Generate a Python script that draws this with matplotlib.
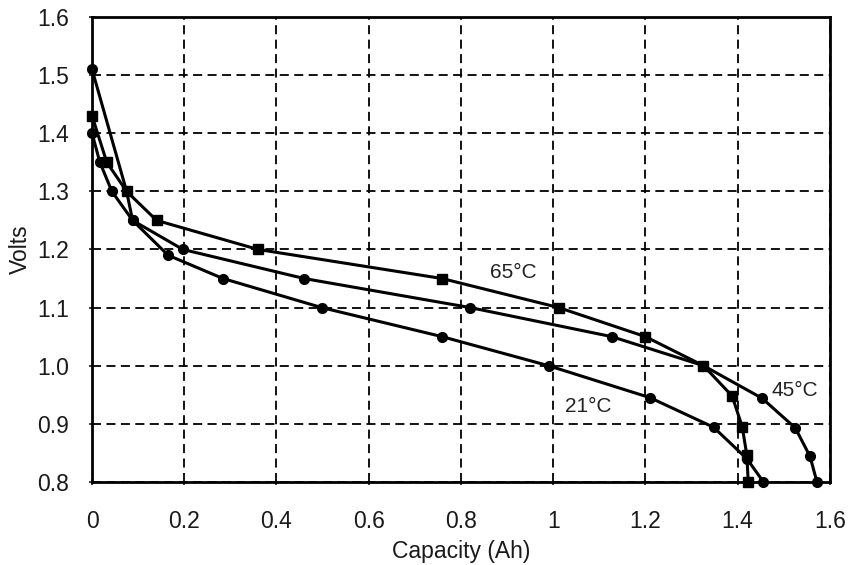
import matplotlib
matplotlib.use("Agg")
import matplotlib.pyplot as plt
from matplotlib.ticker import FixedLocator, FuncFormatter

plt.rcParams['font.family'] = ['Liberation Sans', 'DejaVu Sans']

# Data
cap_65 = [0.0, 0.032, 0.075, 0.14, 0.36, 0.759, 1.012, 1.20, 1.326, 1.388, 1.41, 1.42, 1.423]
volt_65 = [1.43, 1.35, 1.30, 1.25, 1.20, 1.15, 1.10, 1.05, 1.00, 0.948, 0.895, 0.846, 0.80]

cap_45 = [0.0, 0.017, 0.043, 0.088, 0.197, 0.46, 0.82, 1.127, 1.326, 1.453, 1.525, 1.557, 1.572]
volt_45 = [1.40, 1.35, 1.30, 1.25, 1.20, 1.15, 1.10, 1.05, 1.00, 0.944, 0.893, 0.844, 0.80]

cap_21 = [0.0, 0.075, 0.088, 0.165, 0.284, 0.498, 0.759, 0.99, 1.21, 1.348, 1.42, 1.456]
volt_21 = [1.51, 1.30, 1.25, 1.19, 1.15, 1.10, 1.05, 1.00, 0.945, 0.894, 0.84, 0.80]

x_ticks = [0, 0.2, 0.4, 0.6, 0.8, 1.0, 1.2, 1.4, 1.6]
y_ticks = [0.8, 0.9, 1.0, 1.1, 1.2, 1.3, 1.4, 1.5, 1.6]

labels = ["65°C", "45°C", "21°C"]
label_pos = [(0.913, 1.161), (1.525, 0.958), (1.076, 0.929)]

fig = plt.figure(figsize=(8.52, 5.65), dpi=100)
ax = fig.add_axes([0.108, 0.147, 0.866, 0.823])

ax.set_xlim(0, 1.6)
ax.set_ylim(0.8, 1.6)
ax.xaxis.set_major_locator(FixedLocator(x_ticks))
ax.yaxis.set_major_locator(FixedLocator(y_ticks))
ax.xaxis.set_major_formatter(FuncFormatter(lambda v, p: ("%g" % round(v, 2))))
ax.yaxis.set_major_formatter(FuncFormatter(lambda v, p: "%.1f" % v))

ax.grid(True, color='black', linestyle=(0, (5, 3)), linewidth=1.3)
ax.set_axisbelow(True)

for s in ax.spines.values():
    s.set_linewidth(2.0)
    s.set_color('black')

ax.tick_params(axis='both', direction='inout', length=5, width=1.2, labelsize=16.5,
               colors='#1a1a1a')
ax.tick_params(axis='y', pad=14)
ax.tick_params(axis='x', pad=18)

lw = 2.2
ax.plot(cap_65, volt_65, color='black', linewidth=lw, marker='s', markersize=7,
        clip_on=False, zorder=3)
ax.plot(cap_45, volt_45, color='black', linewidth=lw, marker='o', markersize=7,
        clip_on=False, zorder=3)
ax.plot(cap_21, volt_21, color='black', linewidth=lw, marker='o', markersize=7,
        clip_on=False, zorder=3)

for lab, (lx, ly) in zip(labels, label_pos):
    ax.text(lx, ly, lab, fontsize=15, ha='center', va='center', color='#222222',
            bbox=dict(facecolor='white', edgecolor='none', pad=1))

ax.set_xlabel("Capacity (Ah)", fontsize=16.5, labelpad=5, color='#1a1a1a')
ax.set_ylabel("Volts", fontsize=16.5, labelpad=4, color='#1a1a1a')

fig.savefig("out.png", dpi=100)
